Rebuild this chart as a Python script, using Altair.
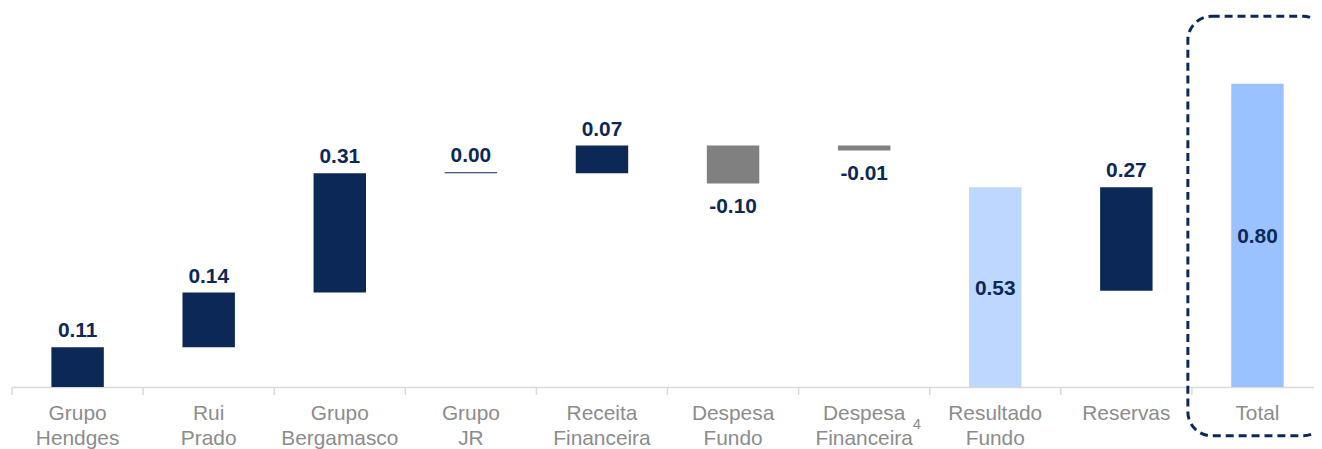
import altair as alt
import pandas as pd

categories = ["Grupo|Hendges", "Rui|Prado", "Grupo|Bergamasco", "Grupo|JR", "Receita|Financeira",
              "Despesa|Fundo", "Despesa|Financeira", "Resultado|Fundo", "Reservas", "Total"]
value_labels = ["0.11", "0.14", "0.31", "0.00", "0.07", "-0.10", "-0.01", "0.53", "0.27", "0.80"]
bar_start = [0.0, 0.105, 0.249, 0.5636, 0.5636, 0.637, 0.637, 0.0, 0.254, 0.0]
bar_end = [0.105, 0.249, 0.5636, 0.5662, 0.637, 0.537, 0.624, 0.527, 0.527, 0.80]
kinds = ["pos", "pos", "pos", "pos", "pos", "neg", "neg", "sub", "pos", "total"]
footnote_cat = ["Despesa|Financeira"]
footnote_text = ["4"]

df = pd.DataFrame({"cat": categories, "label": value_labels, "start": bar_start,
                   "end": bar_end, "kind": kinds})
df_note = pd.DataFrame({"cat": footnote_cat, "note": footnote_text})

NAVY = "#0c2856"
GREY_TXT = "#8c8c8c"
FONT = "Liberation Sans"

x = alt.X("cat:N", sort=categories, title=None,
          scale=alt.Scale(paddingInner=0.6, paddingOuter=0.266, align=0.565),
          axis=alt.Axis(labelAngle=0, ticks=False, domainColor="#d9d9d9", domainWidth=1.5,
                        labelFont=FONT, labelFontSize=21, labelColor=GREY_TXT,
                        labelLineHeight=25, labelPadding=16,
                        labelExpr="split(datum.label, '|')"))
yscale = alt.Scale(domain=[0, 0.996], nice=False, zero=True)

base = alt.Chart(df)

bars = base.mark_bar().encode(
    x=x,
    y=alt.Y("start:Q", scale=yscale, axis=None),
    y2="end:Q",
    color=alt.Color("kind:N", legend=None,
                    scale=alt.Scale(domain=["pos", "neg", "sub", "total"],
                                    range=[NAVY, "#808080", "#bdd7fe", "#99c2fe"])),
)

txt = dict(font=FONT, fontSize=21, fontWeight="bold", color=NAVY)

above = base.transform_filter("datum.kind == 'pos'").transform_calculate(
    top="max(datum.start, datum.end)"
).mark_text(baseline="bottom", dy=-6, **txt).encode(
    x=x, y=alt.Y("top:Q", scale=yscale), text="label:N")

below = base.transform_filter("datum.kind == 'neg'").transform_calculate(
    bot="min(datum.start, datum.end)"
).mark_text(baseline="top", dy=13, **txt).encode(
    x=x, y=alt.Y("bot:Q", scale=yscale), text="label:N")

inside = base.transform_filter("datum.kind == 'sub' || datum.kind == 'total'").transform_calculate(
    mid="(datum.start + datum.end) / 2"
).mark_text(baseline="middle", dy=2, **txt).encode(
    x=x, y=alt.Y("mid:Q", scale=yscale), text="label:N")

ticks = base.mark_rule(color="#d9d9d9", strokeWidth=1.5, xOffset=-65.95).encode(
    x=x, y=alt.value(380), y2=alt.value(388))

note = alt.Chart(df_note).mark_text(
    font=FONT, fontSize=15, color=GREY_TXT, align="left", baseline="middle", dx=49
).encode(x=x, y=alt.value(417), text="note:N")

box = base.transform_filter("datum.kind == 'total'").mark_bar(
    width=140, fill="transparent", stroke=NAVY, strokeWidth=3, strokeDash=[8, 5],
    cornerRadius=24
).encode(x=x, y=alt.value(7), y2=alt.value(429))

chart = alt.layer(ticks, bars, above, below, inside, note, box).properties(
    width=1310, height=380,
    autosize=alt.AutoSizeParams(type="none"),
    padding={"left": 4, "top": 0, "right": 0, "bottom": 61},
).configure_view(stroke=None)

chart.save("out.html", embed_options={"renderer": "svg", "actions": False})
